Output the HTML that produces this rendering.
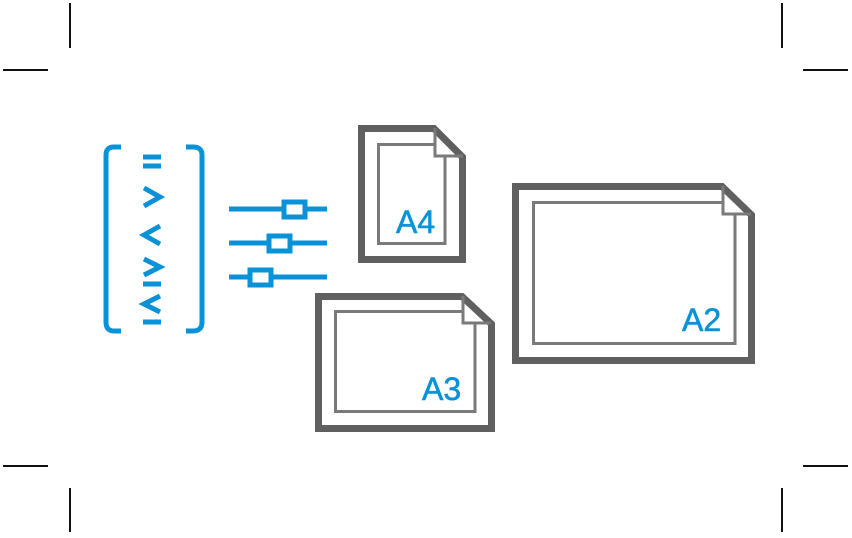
<!DOCTYPE html>
<html><head><style>html,body{margin:0;padding:0;background:#fff}svg{display:block}</style></head><body>
<svg width="852" height="538" viewBox="0 0 852 538" xmlns="http://www.w3.org/2000/svg">
<g stroke="#111" stroke-width="2">
<line x1="70" y1="3" x2="70" y2="48"/><line x1="782" y1="3" x2="782" y2="48"/>
<line x1="3" y1="70" x2="48" y2="70"/><line x1="803" y1="70" x2="848" y2="70"/>
<line x1="3" y1="466" x2="48" y2="466"/><line x1="803" y1="466" x2="848" y2="466"/>
<line x1="70" y1="488" x2="70" y2="532"/><line x1="782" y1="488" x2="782" y2="532"/>
</g>
<g stroke="#0a92d8" stroke-width="5" fill="none">
<path d="M121,147 H114 Q106,147 106,155 V322 Q106,331 114,331 H121"/>
<path d="M186,147 H193 Q202,147 202,155 V322 Q202,331 193,331 H186"/>
<path d="M143,157 H161 M143,166 H161"/>
<path d="M144,188 L160,197 L144,206"/>
<path d="M160,226 L144,235 L160,244"/>
<path d="M144,259 L160,267 L144,275 M143,284 H161"/>
<path d="M160,296 L144,304 L160,312 M143,322 H161"/>
<path d="M229,209 H327 M229,243 H327 M229,277 H327"/>
<rect x="284" y="202" width="21" height="15" fill="#fff"/>
<rect x="269" y="236" width="21" height="15" fill="#fff"/>
<rect x="250" y="270" width="21" height="15" fill="#fff"/>
</g>
<g fill="none" stroke-linejoin="miter">
<path d="M361.5,128.5 H434 L462.5,157 V259.5 H361.5 Z" stroke="#606060" stroke-width="7"/>
<path d="M445,157 V243.5 H378.5 V144.5 H435" stroke="#7a7a7a" stroke-width="3"/>
<path d="M435,128 V156 H463" stroke="#7a7a7a" stroke-width="3"/>
<path d="M318.5,296.5 H462 L491.5,324 V428.5 H318.5 Z" stroke="#606060" stroke-width="7"/>
<path d="M475,324 V411.5 H335.5 V311.5 H463" stroke="#7a7a7a" stroke-width="3"/>
<path d="M463,296 V323 H491" stroke="#7a7a7a" stroke-width="3"/>
<path d="M515.5,186.5 H722 L751.5,215 V360.5 H515.5 Z" stroke="#606060" stroke-width="7"/>
<path d="M735,215 V343.5 H533.5 V202.5 H723" stroke="#7a7a7a" stroke-width="3"/>
<path d="M723,186 V214 H751" stroke="#7a7a7a" stroke-width="3"/>
</g>
<g fill="#0a92d8" font-family="Liberation Sans, sans-serif" font-size="32" stroke="#0a92d8" stroke-width="0.6">
<text x="396" y="233">A4</text>
<text x="422" y="400">A3</text>
<text x="682" y="331">A2</text>
</g>
</svg>
</body></html>
